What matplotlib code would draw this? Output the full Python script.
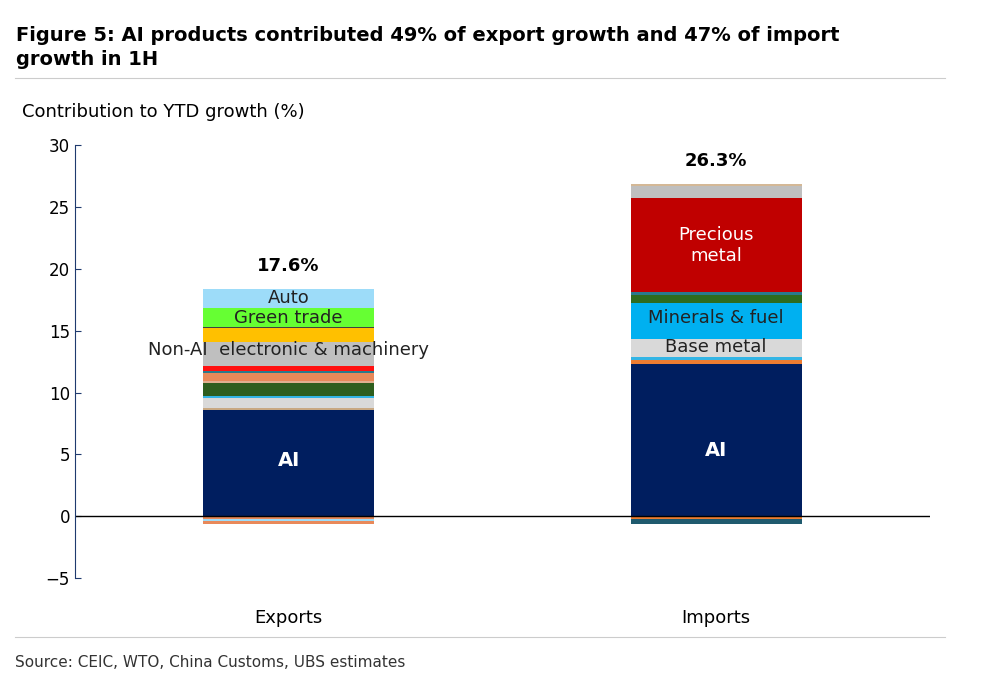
import matplotlib.pyplot as plt
from matplotlib.lines import Line2D

categories = ["Exports", "Imports"]
totals = ["17.6%", "26.3%"]

# stacked segments bottom-up (positive), and negative parts (top-down from 0)
export_pos = [8.6, 0.15, 0.8, 0.15, 1.1, 0.1, 0.7, 0.1, 0.45, 1.95, 1.1, 0.1, 1.5, 1.6]
export_pos_colors = ["#001E5F", "#C8A882", "#D9D9D9", "#33B5E5", "#2E5E1E", "#E0B090",
                     "#E8895A", "#2A7A8C", "#FF1010", "#BFBFBF", "#FFC000", "#404040",
                     "#66FF33", "#9DDCF9"]
export_neg = [-0.2, -0.2, -0.2]
export_neg_colors = ["#E8895A", "#9DDCF9", "#E8895A"]

import_pos = [12.3, 0.35, 0.25, 1.4, 2.9, 0.7, 0.25, 7.6, 0.9, 0.2]
import_pos_colors = ["#001E5F", "#ED7D31", "#33B5E5", "#D9D9D9", "#00B0F0", "#2E6B1E",
                     "#2A7A8C", "#C00000", "#BFBFBF", "#D4B896"]
import_neg = [-0.2, -0.4]
import_neg_colors = ["#ED7D31", "#1F5A6E"]

fig = plt.figure(figsize=(9.84, 6.9), dpi=100)
ax = fig.add_axes([0.076, 0.162, 0.869, 0.628])
w = 0.4

def stack(x, vals, cols):
    base = 0
    for v, c in zip(vals, cols):
        ax.bar(x, v, w, bottom=base, color=c, linewidth=0)
        base += v
    return base

stack(0, export_pos, export_pos_colors)
stack(0, export_neg, export_neg_colors)
stack(1, import_pos, import_pos_colors)
stack(1, import_neg, import_neg_colors)

ax.axhline(0, color="black", lw=1)
ax.set_xlim(-0.5, 1.5)
ax.set_ylim(-5, 30)
ax.set_yticks(range(-5, 31, 5))
ax.set_xticks([0, 1])
ax.set_xticklabels(categories, fontsize=13)
ax.tick_params(axis="x", length=0, pad=22)
ax.tick_params(axis="y", labelsize=12, direction="in", length=4, color="#1F3A6E")
for s in ["top", "right", "bottom"]:
    ax.spines[s].set_visible(False)
ax.spines["left"].set_color("#1F3A6E")

ax.text(0, 19.5, totals[0], ha="center", va="bottom", fontsize=13, fontweight="bold")
ax.text(1, 28.0, totals[1], ha="center", va="bottom", fontsize=13, fontweight="bold")
ax.text(0, 4.5, "AI", ha="center", va="center", color="white", fontsize=14, fontweight="bold")
ax.text(1, 5.3, "AI", ha="center", va="center", color="white", fontsize=14, fontweight="bold")
ax.text(0, 17.6, "Auto", ha="center", va="center", fontsize=13, color="#222222")
ax.text(0, 16.0, "Green trade", ha="center", va="center", fontsize=13, color="#222222")
ax.text(0, 13.4, "Non-AI  electronic & machinery", ha="center", va="center", fontsize=13, color="#222222")
ax.text(1, 21.9, "Precious\nmetal", ha="center", va="center", fontsize=13, color="white", linespacing=1.2)
ax.text(1, 16.0, "Minerals & fuel", ha="center", va="center", fontsize=13, color="#222222")
ax.text(1, 13.7, "Base metal", ha="center", va="center", fontsize=13, color="#222222")

fig.text(0.63 / 9.84 * 0.25, 0.962, "Figure 5: AI products contributed 49% of export growth and 47% of import\ngrowth in 1H",
         fontsize=14, fontweight="bold", va="top", ha="left", linespacing=1.3)
fig.text(0.022, 0.838, "Contribution to YTD growth (%)", fontsize=13, va="center")
fig.text(0.015, 0.04, "Source: CEIC, WTO, China Customs, UBS estimates", fontsize=11, va="center", color="#333333")
fig.add_artist(Line2D([0.015, 0.96], [0.887, 0.887], color="#CCCCCC", lw=0.8))
fig.add_artist(Line2D([0.015, 0.96], [0.077, 0.077], color="#CCCCCC", lw=0.8))

fig.savefig("out.png", dpi=100)
